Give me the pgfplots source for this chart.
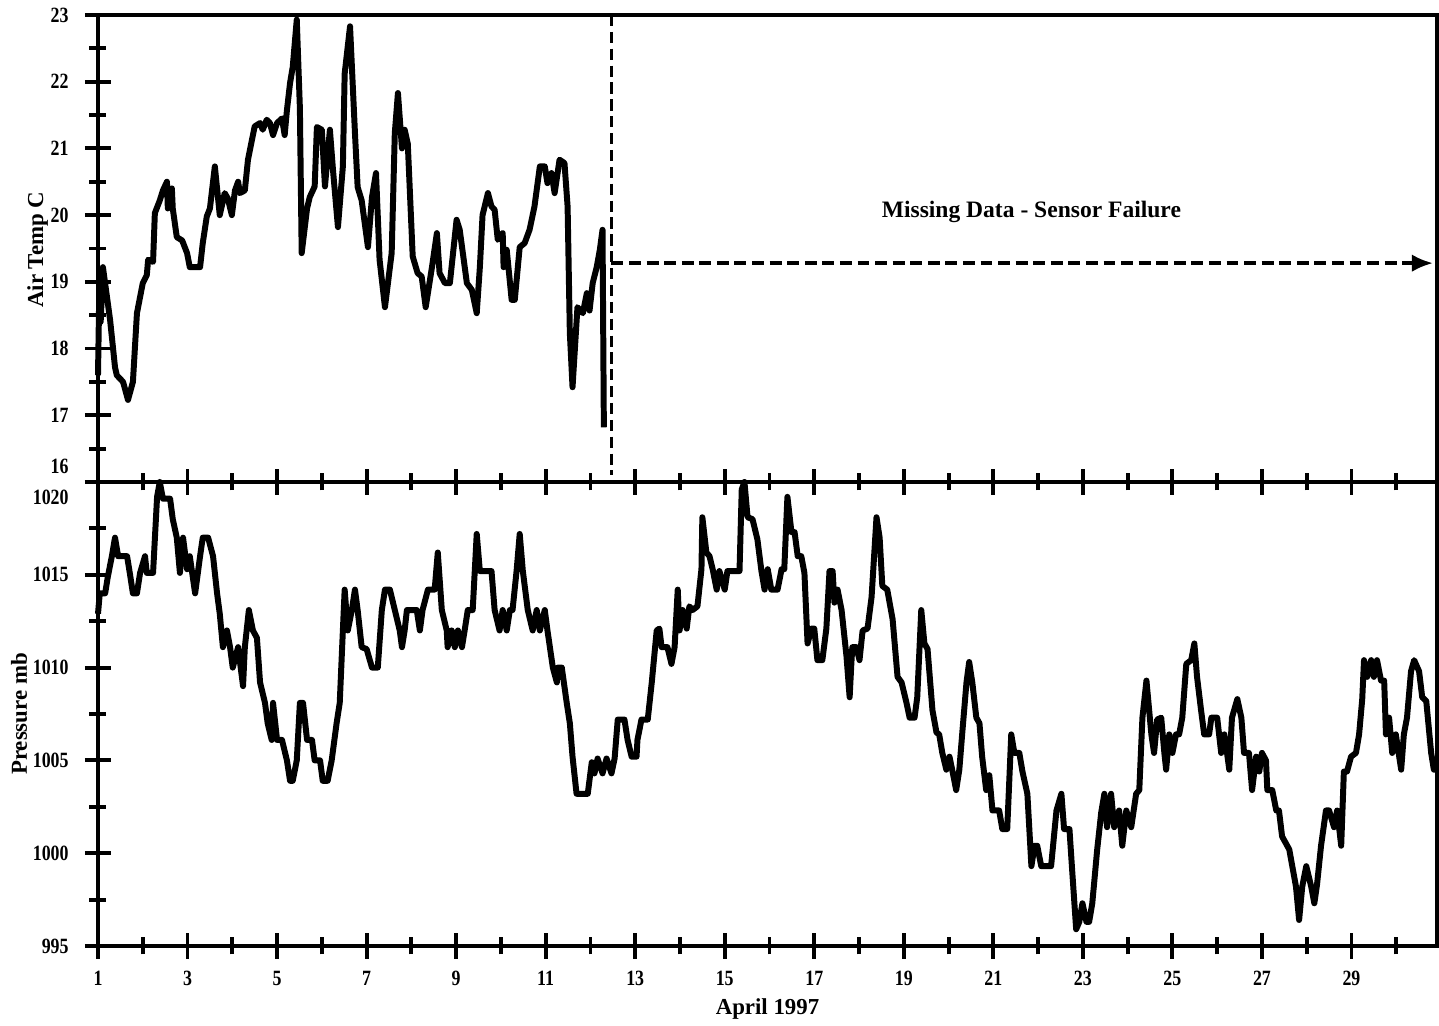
\documentclass[border=0pt]{standalone}
\usepackage{pgfplots}
\pgfplotsset{compat=1.18}
\usepackage{fontspec}
\setmainfont{Liberation Serif}
\newfontfamily\narrowfont{Liberation Serif}[FakeStretch=0.82]
\usetikzlibrary{arrows.meta}

% air temperature, April 1997 (sensor fails on the 12th)
\pgfplotstableread{
day temp
1.00 17.6
1.03 18.9
1.06 18.4
1.11 19.22
1.27 18.43
1.38 17.72
1.42 17.6
1.56 17.5
1.67 17.23
1.78 17.5
1.87 18.53
2.00 18.98
2.09 19.1
2.12 19.33
2.23 19.3
2.27 20.03
2.38 20.22
2.45 20.37
2.54 20.5
2.56 20.1
2.65 20.4
2.67 20.1
2.76 19.67
2.88 19.62
2.99 19.43
3.05 19.22
3.28 19.22
3.34 19.58
3.43 19.98
3.50 20.1
3.61 20.73
3.72 20.0
3.83 20.33
3.90 20.25
3.99 20.0
4.06 20.37
4.13 20.5
4.17 20.33
4.28 20.37
4.35 20.83
4.44 21.13
4.50 21.33
4.62 21.38
4.68 21.28
4.77 21.43
4.84 21.38
4.91 21.2
5.00 21.38
5.11 21.45
5.17 21.2
5.22 21.57
5.29 21.98
5.35 22.22
5.44 22.93
5.51 21.6
5.55 19.43
5.67 20.1
5.73 20.27
5.84 20.43
5.89 21.32
6.00 21.28
6.07 20.43
6.18 21.28
6.25 20.67
6.36 19.82
6.47 20.73
6.51 22.12
6.63 22.83
6.74 21.23
6.80 20.42
6.89 20.22
7.03 19.52
7.12 20.27
7.21 20.63
7.29 19.33
7.41 18.62
7.56 19.43
7.63 21.23
7.70 21.83
7.79 21.0
7.85 21.28
7.92 21.07
8.03 19.38
8.14 19.13
8.23 19.08
8.32 18.62
8.46 19.22
8.57 19.73
8.63 19.13
8.75 18.98
8.86 18.98
9.01 19.93
9.08 19.78
9.24 18.98
9.35 18.88
9.46 18.53
9.53 19.22
9.59 20.0
9.71 20.33
9.79 20.13
9.86 20.08
9.93 19.63
10.04 19.73
10.06 19.22
10.13 19.48
10.24 18.73
10.31 18.73
10.42 19.52
10.53 19.58
10.64 19.78
10.75 20.13
10.87 20.73
10.98 20.73
11.04 20.48
11.13 20.63
11.20 20.33
11.31 20.83
11.42 20.78
11.49 20.13
11.54 18.23
11.60 17.42
11.71 18.62
11.83 18.53
11.92 18.83
11.98 18.57
12.05 18.98
12.14 19.22
12.21 19.48
12.27 19.78
12.30 16.82
}\temptable

% barometric pressure
\pgfplotstableread{
day pres
1.00 1012.9
1.04 1014.0
1.16 1014.0
1.22 1014.9
1.31 1016.0
1.38 1017.0
1.45 1016.0
1.65 1016.0
1.71 1015.1
1.78 1014.0
1.87 1014.0
1.94 1015.1
2.05 1016.0
2.09 1015.1
2.23 1015.1
2.32 1019.2
2.38 1020.0
2.45 1019.1
2.61 1019.1
2.67 1018.0
2.76 1017.0
2.83 1015.1
2.90 1017.0
2.99 1015.3
3.05 1016.0
3.17 1014.0
3.28 1016.0
3.34 1017.0
3.46 1017.0
3.57 1016.0
3.66 1014.0
3.72 1012.9
3.79 1011.1
3.88 1012.0
3.95 1011.1
4.01 1010.0
4.13 1011.1
4.24 1009.0
4.28 1011.1
4.37 1013.1
4.46 1012.0
4.55 1011.6
4.62 1009.2
4.73 1008.1
4.79 1007.0
4.88 1006.1
4.91 1008.1
5.00 1006.1
5.11 1006.1
5.22 1005.0
5.29 1003.9
5.35 1003.9
5.44 1005.0
5.51 1008.1
5.58 1008.1
5.67 1006.1
5.78 1006.1
5.84 1005.0
5.96 1005.0
6.02 1003.9
6.13 1003.9
6.22 1005.0
6.33 1007.0
6.40 1008.1
6.47 1012.0
6.51 1014.2
6.58 1012.0
6.67 1013.1
6.74 1014.2
6.80 1013.1
6.89 1011.1
7.00 1011.0
7.12 1010.0
7.25 1010.0
7.34 1013.1
7.41 1014.2
7.52 1014.2
7.63 1013.1
7.74 1012.0
7.79 1011.1
7.85 1012.0
7.90 1013.1
8.12 1013.1
8.19 1012.0
8.25 1013.1
8.37 1014.2
8.52 1014.2
8.59 1016.2
8.68 1013.1
8.79 1012.0
8.81 1011.1
8.90 1012.0
8.97 1011.1
9.04 1012.0
9.13 1011.1
9.19 1012.0
9.26 1013.1
9.37 1013.1
9.46 1017.2
9.53 1015.2
9.79 1015.2
9.86 1013.1
9.97 1012.0
10.04 1013.1
10.13 1012.0
10.20 1013.1
10.26 1013.1
10.35 1015.2
10.42 1017.2
10.49 1015.2
10.60 1013.1
10.71 1012.0
10.80 1013.1
10.87 1012.0
10.98 1013.1
11.04 1012.0
11.16 1010.0
11.25 1009.2
11.27 1010.0
11.36 1010.0
11.47 1008.1
11.54 1007.0
11.60 1005.2
11.69 1003.2
11.94 1003.2
12.03 1004.9
12.09 1004.3
12.16 1005.1
12.27 1004.3
12.36 1005.1
12.47 1004.3
12.54 1005.1
12.61 1007.2
12.76 1007.2
12.83 1006.1
12.92 1005.2
13.03 1005.2
13.05 1006.1
13.14 1007.2
13.28 1007.2
13.37 1009.2
13.48 1012.0
13.54 1012.1
13.59 1011.1
13.72 1011.1
13.81 1010.2
13.88 1011.1
13.95 1014.2
13.99 1012.0
14.06 1013.1
14.15 1012.1
14.21 1013.3
14.28 1013.1
14.39 1013.3
14.48 1015.3
14.50 1018.1
14.59 1016.2
14.66 1016.0
14.73 1015.3
14.82 1014.2
14.88 1015.2
15.00 1014.2
15.06 1015.2
15.33 1015.2
15.38 1019.6
15.44 1020.0
15.51 1018.1
15.62 1018.0
15.73 1016.9
15.82 1015.2
15.89 1014.2
15.96 1015.3
16.04 1014.2
16.18 1014.2
16.27 1015.3
16.33 1015.3
16.40 1019.2
16.49 1017.3
16.56 1017.3
16.63 1016.0
16.71 1016.0
16.78 1015.1
16.85 1011.3
16.94 1012.1
17.00 1012.1
17.07 1010.4
17.18 1010.4
17.27 1012.1
17.34 1015.2
17.41 1015.2
17.45 1013.5
17.52 1014.2
17.61 1013.1
17.72 1010.6
17.79 1008.4
17.83 1010.3
17.85 1011.1
17.94 1011.1
18.01 1010.4
18.08 1012.0
18.19 1012.1
18.28 1013.8
18.39 1018.1
18.46 1017.0
18.52 1014.4
18.63 1014.2
18.75 1012.6
18.86 1009.5
18.95 1009.2
19.06 1008.1
19.13 1007.3
19.24 1007.3
19.30 1008.4
19.39 1013.1
19.46 1011.3
19.53 1011.0
19.64 1007.7
19.73 1006.5
19.79 1006.4
19.86 1005.4
19.95 1004.5
20.02 1005.2
20.08 1004.5
20.17 1003.4
20.24 1004.5
20.31 1006.6
20.40 1009.2
20.46 1010.3
20.53 1009.2
20.62 1007.3
20.69 1007.0
20.75 1005.2
20.84 1003.4
20.91 1004.2
20.98 1002.3
21.13 1002.3
21.20 1001.3
21.31 1001.3
21.40 1006.4
21.47 1005.4
21.58 1005.4
21.65 1004.4
21.76 1003.2
21.85 999.3
21.92 1000.4
21.98 1000.4
22.07 999.3
22.29 999.3
22.41 1002.3
22.52 1003.2
22.58 1001.3
22.70 1001.3
22.76 999.1
22.85 995.9
22.92 996.3
22.99 997.3
23.08 996.3
23.14 996.3
23.21 997.3
23.32 1000.2
23.41 1002.2
23.48 1003.2
23.54 1001.4
23.63 1003.2
23.70 1001.4
23.81 1002.3
23.88 1000.4
23.97 1002.3
24.08 1001.4
24.19 1003.2
24.26 1003.4
24.33 1007.3
24.42 1009.3
24.53 1006.4
24.59 1005.4
24.66 1007.2
24.75 1007.3
24.82 1005.4
24.86 1004.5
24.93 1006.4
25.00 1005.4
25.08 1006.4
25.15 1006.4
25.22 1007.3
25.31 1010.2
25.42 1010.4
25.49 1011.3
25.55 1009.5
25.64 1007.7
25.71 1006.4
25.82 1006.4
25.87 1007.3
26.00 1007.3
26.09 1005.4
26.16 1006.4
26.22 1005.4
26.27 1004.5
26.33 1007.3
26.45 1008.3
26.54 1007.3
26.60 1005.4
26.71 1005.4
26.78 1003.4
26.87 1005.2
26.94 1004.4
27.00 1005.4
27.09 1005.0
27.12 1003.4
27.23 1003.4
27.32 1002.3
27.38 1002.3
27.45 1000.9
27.61 1000.2
27.67 999.4
27.76 998.2
27.83 996.4
27.90 998.2
27.99 999.3
28.10 998.2
28.17 997.3
28.23 998.3
28.32 1000.4
28.43 1002.3
28.50 1002.3
28.61 1001.4
28.68 1002.3
28.77 1000.4
28.83 1004.4
28.90 1004.4
28.99 1005.2
29.10 1005.4
29.17 1006.4
29.24 1008.3
29.28 1010.4
29.35 1009.5
29.44 1010.4
29.50 1009.5
29.57 1010.4
29.66 1009.3
29.73 1009.3
29.77 1006.4
29.84 1007.3
29.91 1005.4
29.99 1006.4
30.11 1004.5
30.17 1006.4
30.24 1007.3
30.33 1009.8
30.40 1010.4
30.51 1009.8
30.58 1008.4
30.67 1008.2
30.78 1005.4
30.84 1004.5
30.91 1004.5
}\prestable

\pgfplotsset{
  panel/.style={
    scale only axis,
    width=13.39cm,
    xmin=1, xmax=30.91,
    clip=false,
    axis line style={line width=1.1pt},
    xtick={1,3,...,29},
    minor xtick={2,4,...,30},
    xtick pos=bottom, ytick pos=left,
    tick align=center,
    major tick length=0.26cm,
    minor tick length=0.17cm,
    every tick/.style={black, line width=1.1pt},
    tick label style={font=\fontsize{6.2}{6}\selectfont\narrowfont\bfseries},
    yticklabel style={xshift=-0.04cm},
    /pgf/number format/assume math mode=true,
    /pgf/number format/1000 sep={},
    label style={font=\fontsize{6.5}{7}\selectfont\bfseries},
  },
  trace/.style={black, no markers, line width=1.7pt, line join=round},
}

\begin{document}
\begin{tikzpicture}
\path[use as bounding box] (-0.98,-0.80) rectangle (13.41,9.46);

\begin{axis}[panel,
    at={(0,0)}, anchor=south west,
    height=4.64cm,
    ymin=995, ymax=1020,
    ytick={995,1000,...,1015},
    minor ytick={997.5,1002.5,...,1017.5},
    extra y ticks={1020},
    extra y tick style={yticklabel style={yshift=-4.5pt}},
    ylabel={Pressure mb},
    ylabel style={at={(axis description cs:-0.059,0.5)}, anchor=center},
    xlabel={April 1997},
    xlabel style={at={(axis description cs:0.5,-0.135)}, anchor=center},
  ]
  \addplot[trace] table[x=day, y=pres] {\prestable};
\end{axis}

\begin{axis}[panel,
    at={(0,4.64cm)}, anchor=south west,
    height=4.67cm,
    ymin=16, ymax=23,
    ytick={17,...,23},
    minor ytick={16.5,17.5,...,22.5},
    extra y ticks={16},
    extra y tick style={yticklabel style={yshift=4.5pt}},
    xticklabels={},
    ylabel={Air Temp C},
    ylabel style={at={(axis description cs:-0.045,0.497)}, anchor=center},
  ]
  \addplot[trace] table[x=day, y=temp] {\temptable};
  \draw[line width=1pt, dash pattern=on 3.2pt off 1.6pt]
    (axis cs:12.47,23) -- (axis cs:12.47,16.1);
  \draw[line width=1pt, dash pattern=on 3.4pt off 1.6pt,
        -{Latex[length=6pt,width=5pt]}]
    (axis cs:12.47,19.28) -- (axis cs:30.82,19.28);
  \node[font=\fontsize{6.7}{7}\selectfont\bfseries]
    at (axis cs:21.85,20.05) {Missing Data - Sensor Failure};
\end{axis}
\end{tikzpicture}
\end{document}
